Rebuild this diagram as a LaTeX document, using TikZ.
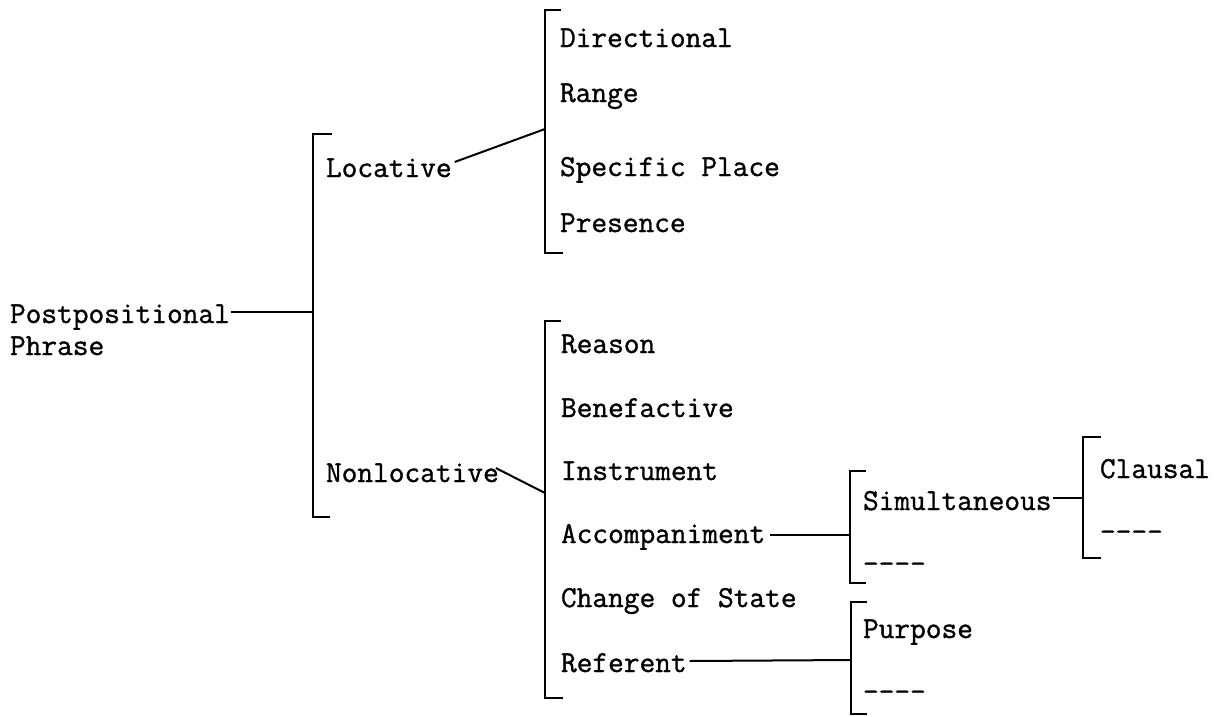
\documentclass[tikz,border=0pt]{standalone}
\usepackage{fontspec}
% typewriter face, slightly emboldened
\newfontfamily\twfont{Latin Modern Mono}[FakeBold=1.1]
\begin{document}
\begin{tikzpicture}[x=1pt,y=-1pt,
  every node/.style={inner sep=0pt,outer sep=0pt},
  lbl/.style={anchor=base west,font=\twfont\fontsize{30.5}{33}\selectfont},
  ink/.style={line width=2.2pt,line join=miter},
  conn/.style={line width=2pt}]
\useasboundingbox (0,0) rectangle (1223,716);

% ---- labels
\node[lbl] (post)  at (10,323) {Postpositional};
\node[lbl] (phr)   at (10,355) {Phrase};
\node[lbl] (loc)   at (326,177) {Locative};
\node[lbl] (nonloc) at (326,482) {Nonlocative};

\node[lbl] (dir)  at (560,47)  {Directional};
\node[lbl] (rng)  at (560,102) {Range};
\node[lbl] (spec) at (560,176) {Specific Place};
\node[lbl] (pres) at (560,232) {Presence};

\node[lbl] (reas) at (561,353) {Reason};
\node[lbl] (bene) at (561,417) {Benefactive};
\node[lbl] (inst) at (561,480) {Instrument};
\node[lbl] (acc)  at (561,543) {Accompaniment};
\node[lbl] (cos)  at (561,607) {Change of State};
\node[lbl] (ref)  at (561,672) {Referent};

\node[lbl] (sim)  at (863,510) {Simultaneous};
\node[lbl] (simx) at (863,573) {----};
\node[lbl] (cla)  at (1100,478) {Clausal};
\node[lbl] (clax) at (1100,541) {----};
\node[lbl] (purp) at (863,638) {Purpose};
\node[lbl] (purx) at (863,701) {----};

% ---- brackets
\draw[ink] (332,134) -- (313,134) -- (313,517) -- (330,517);
\draw[ink] (561,10)  -- (545,10)  -- (545,253) -- (563,253);
\draw[ink] (561,321) -- (545,321) -- (545,698) -- (563,698);
\draw[ink] (866,471) -- (850,471) -- (850,583) -- (866,583);
\draw[ink] (1101,437) -- (1083,437) -- (1083,558) -- (1101,558);
\draw[ink] (867,602) -- (851,602) -- (851,714) -- (867,714);

% ---- junction points on the brackets
\coordinate (jpost) at (313,312);
\coordinate (jloc)  at (545,129);
\coordinate (jnon)  at (545,493);
\coordinate (jacc)  at (850,535);
\coordinate (jref)  at (851,660);
\coordinate (jsim)  at (1083,498);

% ---- connectors
\draw[conn] ([xshift=1pt,yshift=11pt]post.base east) -- (jpost);
\draw[conn] ([xshift=3pt,yshift=15pt]loc.base east) -- (jloc);
\draw[conn] ([xshift=-3pt,yshift=14pt]nonloc.base east) -- (jnon);
\draw[conn] ([xshift=5pt,yshift=8pt]acc.base east) -- (jacc);
\draw[conn] ([xshift=3pt,yshift=11pt]ref.base east) -- (jref);
\draw[conn] ([xshift=1pt,yshift=12pt]sim.base east) -- (jsim);
\end{tikzpicture}
\end{document}
